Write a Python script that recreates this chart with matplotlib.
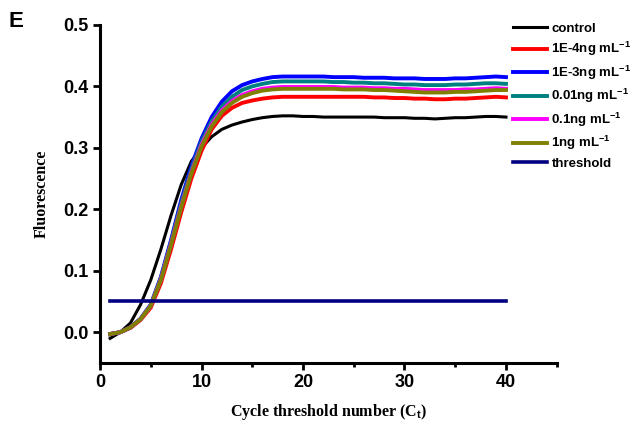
import numpy as np
import matplotlib
matplotlib.use("Agg")
import matplotlib.pyplot as plt
from matplotlib.ticker import MultipleLocator

cycles = np.arange(1, 41)

control = [-0.010, 0.000, 0.015, 0.045, 0.085, 0.135, 0.190, 0.240, 0.278, 0.300,
           0.318, 0.330, 0.337, 0.342, 0.346, 0.349, 0.351, 0.352, 0.352, 0.351,
           0.351, 0.350, 0.350, 0.350, 0.350, 0.350, 0.350, 0.349, 0.349, 0.349,
           0.348, 0.348, 0.347, 0.348, 0.349, 0.349, 0.350, 0.351, 0.351, 0.350]
c_1e4 = [-0.003, 0.000, 0.007, 0.020, 0.040, 0.080, 0.135, 0.195, 0.250, 0.295,
         0.330, 0.352, 0.365, 0.373, 0.377, 0.380, 0.382, 0.383, 0.383, 0.383,
         0.383, 0.383, 0.383, 0.383, 0.383, 0.383, 0.382, 0.382, 0.381, 0.381,
         0.380, 0.380, 0.379, 0.379, 0.380, 0.380, 0.381, 0.382, 0.383, 0.382]
c_1e3 = [-0.003, 0.000, 0.008, 0.022, 0.045, 0.090, 0.150, 0.215, 0.270, 0.315,
         0.350, 0.375, 0.392, 0.402, 0.408, 0.412, 0.415, 0.416, 0.416, 0.416,
         0.416, 0.416, 0.415, 0.415, 0.415, 0.414, 0.414, 0.414, 0.413, 0.413,
         0.413, 0.412, 0.412, 0.412, 0.413, 0.413, 0.414, 0.415, 0.416, 0.415]
c_001 = [-0.003, 0.000, 0.008, 0.022, 0.044, 0.088, 0.147, 0.210, 0.265, 0.310,
         0.343, 0.367, 0.383, 0.394, 0.400, 0.404, 0.407, 0.408, 0.408, 0.408,
         0.408, 0.408, 0.407, 0.407, 0.406, 0.406, 0.405, 0.405, 0.404, 0.403,
         0.403, 0.402, 0.402, 0.402, 0.403, 0.403, 0.404, 0.405, 0.405, 0.404]
c_01 = [-0.003, 0.000, 0.008, 0.021, 0.043, 0.086, 0.144, 0.205, 0.260, 0.305,
        0.338, 0.361, 0.376, 0.386, 0.392, 0.396, 0.398, 0.399, 0.399, 0.399,
        0.399, 0.399, 0.399, 0.398, 0.398, 0.398, 0.397, 0.397, 0.396, 0.396,
        0.395, 0.394, 0.394, 0.394, 0.394, 0.395, 0.395, 0.396, 0.397, 0.396]
c_1 = [-0.003, 0.000, 0.008, 0.021, 0.043, 0.085, 0.142, 0.203, 0.258, 0.302,
       0.335, 0.358, 0.373, 0.383, 0.389, 0.393, 0.395, 0.396, 0.396, 0.396,
       0.396, 0.396, 0.396, 0.395, 0.395, 0.395, 0.394, 0.394, 0.393, 0.392,
       0.391, 0.390, 0.390, 0.390, 0.391, 0.391, 0.392, 0.393, 0.394, 0.394]
threshold = 0.05

labels = ["control", r"1E-4ng mL$^{\mathbf{-1}}$", r"1E-3ng mL$^{\mathbf{-1}}$",
          r"0.01ng mL$^{\mathbf{-1}}$", r"0.1ng mL$^{\mathbf{-1}}$",
          r"1ng mL$^{\mathbf{-1}}$", "threshold"]
colors = ["black", "#ff0000", "#0000ff", "#008080", "#ff00ff", "#808000", "#000080"]

plt.rcParams["font.family"] = ["Liberation Sans", "DejaVu Sans"]
plt.rcParams["font.weight"] = "bold"
plt.rcParams["mathtext.fontset"] = "custom"
plt.rcParams["mathtext.bf"] = "Liberation Sans:bold"
plt.rcParams["mathtext.default"] = "bf"

fig = plt.figure(figsize=(6.37, 4.29), dpi=100)
ax = fig.add_axes([0.157, 0.154, 0.717, 0.788])

series = [control, c_1e4, c_1e3, c_001, c_01, c_1]
for i, s in enumerate(series):
    ax.plot(cycles, s, color=colors[i], lw=2.2 if i == 0 else 2.8, label=labels[i])
ax.plot(cycles, np.full(len(cycles), threshold), color=colors[6], lw=2.6, label=labels[6])

ax.set_xlim(0, 45)
ax.set_ylim(-0.05, 0.5)
ax.xaxis.set_minor_locator(MultipleLocator(5))
ax.set_xticks([0, 10, 20, 30, 40])
ax.set_yticks([0.0, 0.1, 0.2, 0.3, 0.4, 0.5])
ax.set_yticklabels(["0.0", "0.1", "0.2", "0.3", "0.4", "0.5"])
for sp in ["top", "right"]:
    ax.spines[sp].set_visible(False)
for sp in ["left", "bottom"]:
    ax.spines[sp].set_linewidth(2.2)
ax.tick_params(which="major", direction="out", length=5, width=2, labelsize=13, pad=3)
ax.tick_params(which="minor", direction="out", length=3, width=2)
for t in ax.get_xticklabels() + ax.get_yticklabels():
    t.set_fontweight("bold")

ax.set_xlabel(r"Cycle threshold number (C$_\mathbf{t}$)", family="Liberation Serif",
              fontweight="bold", fontsize=11.5, labelpad=8)
ax.set_ylabel("Fluorescence", family="Liberation Serif", fontweight="bold",
              fontsize=11.5, labelpad=10)

fig.text(0.014, 0.95, "E", fontsize=16, fontweight="bold", va="center")

fig.legend(loc="upper left", bbox_to_anchor=(0.787, 0.975), frameon=False,
           handlelength=2.6, labelspacing=0.4, handletextpad=0.3,
           prop={"weight": "bold", "size": 9.5})

plt.savefig("out.png", dpi=100)
